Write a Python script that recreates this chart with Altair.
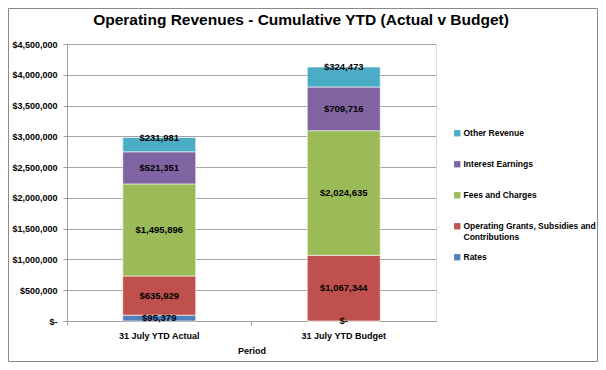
import altair as alt
import pandas as pd

periods = ["31 July YTD Actual", "31 July YTD Budget"]
series = ["Rates", "Operating Grants, Subsidies and Contributions", "Fees and Charges",
          "Interest Earnings", "Other Revenue"]
actual = [95379, 635929, 1495896, 521351, 231981]
budget = [0, 1067344, 2024635, 709716, 324473]
colors = ["#4F81BD", "#C0504D", "#9BBB59", "#8064A2", "#4BACC6"]
y_ticks = [0, 500000, 1000000, 1500000, 2000000, 2500000, 3000000, 3500000, 4000000, 4500000]
title_text = "Operating Revenues - Cumulative YTD (Actual v Budget)"

FONT = "Liberation Sans, Arial, sans-serif"

rows = []
for p, vals in zip(periods, [actual, budget]):
    cum = 0
    for i, (s, v) in enumerate(zip(series, vals)):
        # Excel places the top series' label at the segment end, others at center
        ly = cum + v if s == "Other Revenue" else cum + v / 2
        rows.append({"period": p, "series": s, "value": v, "idx": i, "label_y": ly,
                     "label": "$-" if v == 0 else "${:,}".format(v)})
        cum += v
df = pd.DataFrame(rows)

legend_order = series[::-1]
legend_colors = colors[::-1]

x_scale = alt.Scale(paddingInner=0, paddingOuter=0)
x_axis = alt.Axis(title="Period", labelAngle=0, labelFont=FONT, labelFontSize=9,
                  labelFontWeight="bold", labelColor="black", labelPadding=6,
                  titleFont=FONT, titleFontSize=9, titleFontWeight="bold",
                  titleColor="black", titlePadding=6,
                  domainColor="#A0A0A0", tickColor="#A0A0A0", tickSize=4,
                  bandPosition=0, grid=False)
y_scale = alt.Scale(domain=[0, 4500000], nice=False)
y_axis = alt.Axis(title=None, values=y_ticks, labelOverlap=False,
                  labelExpr="datum.value == 0 ? '$-' : '$' + format(datum.value, ',')",
                  labelFont=FONT, labelFontSize=9, labelFontWeight="bold",
                  labelColor="black", labelPadding=6, tickSize=4,
                  tickColor="#A0A0A0", domainColor="#A0A0A0",
                  gridColor="#A6A6A6", gridWidth=1)

legend_expr = ("datum.label == 'Operating Grants, Subsidies and Contributions' ? "
               "['Operating Grants,  Subsidies and', 'Contributions'] : [datum.label, ' ']")

bars = alt.Chart(df).mark_bar(size=73, stroke="white", strokeWidth=0.6).encode(
    x=alt.X("period:N", sort=periods, scale=x_scale, axis=x_axis),
    y=alt.Y("value:Q", stack="zero", scale=y_scale, axis=y_axis),
    color=alt.Color("series:N", scale=alt.Scale(domain=legend_order, range=legend_colors),
                    legend=alt.Legend(title=None, orient="none", legendX=386, legendY=85,
                                      symbolType="square", symbolSize=40, symbolStrokeWidth=0,
                                      labelFont=FONT, labelFontSize=8.5, labelFontWeight="bold",
                                      labelColor="black", labelLimit=300, rowPadding=11,
                                      labelOffset=2, labelExpr=legend_expr)),
    order=alt.Order("idx:Q"),
)

labels = alt.Chart(df).mark_text(font=FONT, fontSize=9.5, fontWeight="bold", color="black",
                                 baseline="middle").encode(
    x=alt.X("period:N", sort=periods, scale=x_scale, axis=x_axis),
    y=alt.Y("label_y:Q", scale=y_scale, axis=y_axis),
    text="label:N",
)

title = alt.Chart(pd.DataFrame({"t": [title_text]})).mark_text(
    font=FONT, fontSize=15.5, fontWeight="bold", color="black", align="center",
    baseline="middle").encode(x=alt.value(234), y=alt.value(-24), text="t:N")

border = alt.Chart(pd.DataFrame({"a": [0]})).mark_rect(
    fill=None, stroke="#8A8A8A", strokeWidth=1).encode(
    x=alt.value(-58.5), x2=alt.value(530.5), y=alt.value(-35.5), y2=alt.value(317.5))

chart = alt.layer(bars, labels, title, border).properties(
    width=369, height=277,
    autosize=alt.AutoSizeParams(type="none"),
    padding={"left": 59, "top": 36, "right": 162, "bottom": 41},
).configure_view(stroke=None).configure(background="white")

chart.save("out.html", embed_options={"renderer": "svg", "actions": False})
